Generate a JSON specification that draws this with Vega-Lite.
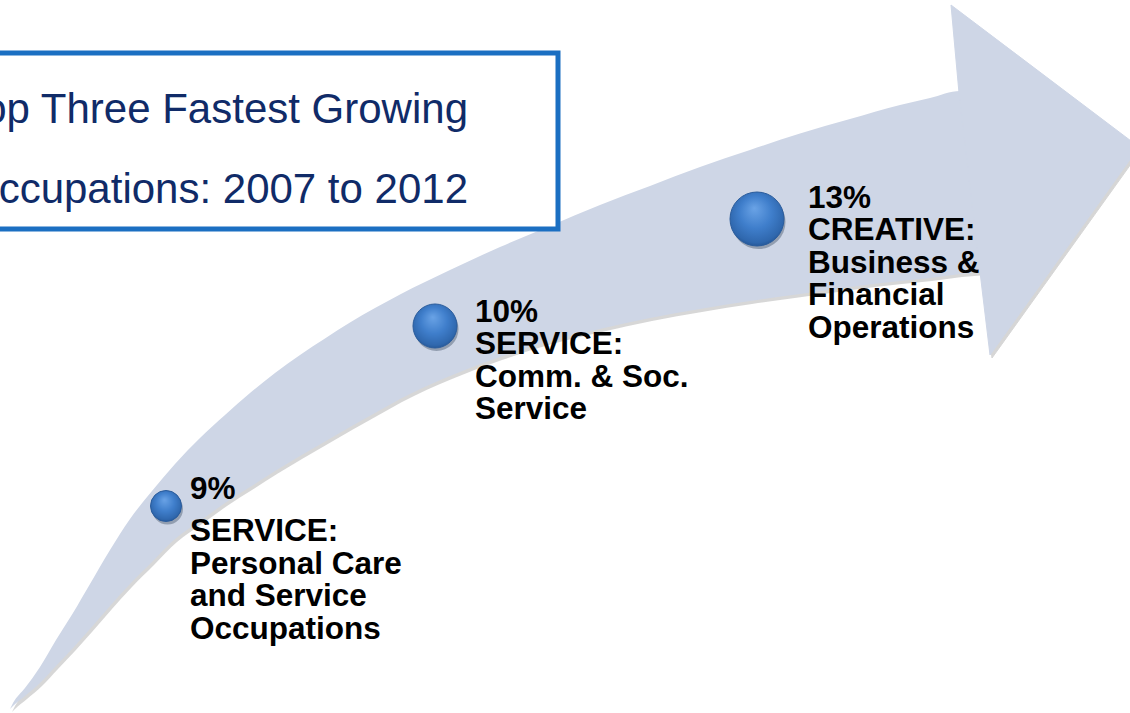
{
  "$schema": "https://vega.github.io/schema/vega-lite/v6.json",
  "width": 1130,
  "height": 713,
  "padding": 0,
  "autosize": {"type": "none"},
  "background": "white",
  "config": {"view": {"stroke": null}},
  "datasets": {
    "body": [
      {"x": 10, "yu": 709, "yl": 709}, {"x": 13, "yu": 703, "yl": 706}, {"x": 25, "yu": 688, "yl": 696},
      {"x": 40, "yu": 667, "yl": 683}, {"x": 56, "yu": 640, "yl": 666}, {"x": 73, "yu": 613, "yl": 648},
      {"x": 90, "yu": 584, "yl": 629}, {"x": 110, "yu": 550, "yl": 606}, {"x": 130, "yu": 519, "yl": 584},
      {"x": 152, "yu": 491, "yl": 562}, {"x": 175, "yu": 464, "yl": 539}, {"x": 200, "yu": 438, "yl": 521},
      {"x": 225, "yu": 415, "yl": 503}, {"x": 250, "yu": 393, "yl": 487}, {"x": 275, "yu": 373, "yl": 471},
      {"x": 300, "yu": 355, "yl": 456}, {"x": 325, "yu": 338.5, "yl": 441.5}, {"x": 350, "yu": 322.5, "yl": 427},
      {"x": 375, "yu": 308, "yl": 413}, {"x": 400, "yu": 294.5, "yl": 399}, {"x": 450, "yu": 270, "yl": 376},
      {"x": 500, "yu": 247, "yl": 357}, {"x": 550, "yu": 226, "yl": 341}, {"x": 600, "yu": 205, "yl": 329},
      {"x": 650, "yu": 186, "yl": 318}, {"x": 700, "yu": 167, "yl": 309}, {"x": 750, "yu": 150, "yl": 301},
      {"x": 800, "yu": 133.5, "yl": 294}, {"x": 850, "yu": 119, "yl": 287}, {"x": 900, "yu": 105, "yl": 281},
      {"x": 930, "yu": 98, "yl": 278}, {"x": 960, "yu": 91, "yl": 274}, {"x": 985, "yu": 91, "yl": 272}
    ],
    "head": [
      {"i": 0, "x": 959, "y": 93}, {"i": 1, "x": 951, "y": 5}, {"i": 2, "x": 1139, "y": 147},
      {"i": 3, "x": 990, "y": 355}, {"i": 4, "x": 980, "y": 272}, {"i": 5, "x": 959, "y": 93}
    ],
    "box": [{"x": -20, "x2": 558, "y": 53, "y2": 229}],
    "boxText": [
      {"t": "Top Three Fastest Growing", "x": 468, "y": 123},
      {"t": "Occupations: 2007 to 2012", "x": 468, "y": 203}
    ],
    "growth": [
      {"pct": 9, "pctLabel": "9%", "desc": "SERVICE:\nPersonal Care\nand Service\nOccupations", "x": 166, "y": 506, "lx": 190, "ly": 499, "dy": 541},
      {"pct": 10, "pctLabel": "10%", "desc": "SERVICE:\nComm. & Soc.\nService", "x": 435, "y": 326, "lx": 475, "ly": 322, "dy": 354},
      {"pct": 13, "pctLabel": "13%", "desc": "CREATIVE:\nBusiness &\nFinancial\nOperations", "x": 757, "y": 219, "lx": 808, "ly": 208, "dy": 240}
    ]
  },
  "layer": [
    {
      "data": {"name": "body"},
      "mark": {"type": "area", "orient": "vertical", "interpolate": "monotone", "color": "#9a9a9a", "opacity": 0.4, "xOffset": 2, "yOffset": 3, "y2Offset": 3, "clip": true},
      "encoding": {
        "x": {"field": "x", "type": "quantitative", "scale": {"domain": [0, 1130], "nice": false, "zero": false}, "axis": null},
        "y": {"field": "yu", "type": "quantitative", "scale": {"domain": [0, 713], "reverse": true, "nice": false, "zero": false}, "axis": null},
        "y2": {"field": "yl"}
      }
    },
    {
      "data": {"name": "head"},
      "mark": {"type": "line", "fill": "#9a9a9a", "stroke": "#9a9a9a", "strokeWidth": 1, "opacity": 0.4, "xOffset": 2, "yOffset": 3, "clip": true},
      "encoding": {
        "x": {"field": "x", "type": "quantitative", "axis": null},
        "y": {"field": "y", "type": "quantitative", "axis": null},
        "order": {"field": "i"}
      }
    },
    {
      "data": {"name": "body"},
      "mark": {"type": "area", "orient": "vertical", "interpolate": "monotone", "color": "#ced6e6", "opacity": 1, "clip": true},
      "encoding": {
        "x": {"field": "x", "type": "quantitative", "axis": null},
        "y": {"field": "yu", "type": "quantitative", "axis": null},
        "y2": {"field": "yl"}
      }
    },
    {
      "data": {"name": "head"},
      "mark": {"type": "line", "fill": "#ced6e6", "stroke": "#ced6e6", "strokeWidth": 1, "clip": true},
      "encoding": {
        "x": {"field": "x", "type": "quantitative", "axis": null},
        "y": {"field": "y", "type": "quantitative", "axis": null},
        "order": {"field": "i"}
      }
    },
    {
      "data": {"name": "box"},
      "mark": {"type": "rect", "fill": "white", "stroke": "#1b6fc2", "strokeWidth": 5, "clip": true},
      "encoding": {
        "x": {"field": "x", "type": "quantitative", "axis": null},
        "x2": {"field": "x2"},
        "y": {"field": "y", "type": "quantitative", "axis": null},
        "y2": {"field": "y2"}
      }
    },
    {
      "data": {"name": "boxText"},
      "mark": {"type": "text", "align": "right", "baseline": "alphabetic", "font": "Liberation Sans", "fontSize": 42, "color": "#102b68", "clip": true},
      "encoding": {
        "x": {"field": "x", "type": "quantitative", "axis": null},
        "y": {"field": "y", "type": "quantitative", "axis": null},
        "text": {"field": "t"}
      }
    },
    {
      "data": {"name": "growth"},
      "mark": {"type": "point", "shape": "circle", "filled": true, "fill": "#3a4a60", "opacity": 0.4, "xOffset": 1.5, "yOffset": 3, "strokeWidth": 0},
      "encoding": {
        "x": {"field": "x", "type": "quantitative", "axis": null},
        "y": {"field": "y", "type": "quantitative", "axis": null},
        "size": {"field": "pct", "type": "ordinal", "scale": {"domain": [9, 10, 13], "range": [961, 2916, 5476]}, "legend": null}
      }
    },
    {
      "data": {"name": "growth"},
      "mark": {
        "type": "point", "shape": "circle", "filled": true, "opacity": 1,
        "fill": {"gradient": "radial", "x1": 0.45, "y1": 0.3, "r1": 0, "x2": 0.5, "y2": 0.45, "r2": 0.6,
          "stops": [
            {"offset": 0, "color": "#6aa3e6"},
            {"offset": 0.5, "color": "#3f7ecb"},
            {"offset": 0.85, "color": "#2f67ad"},
            {"offset": 1, "color": "#1f4e8a"}
          ]},
        "stroke": "#2a5c9c", "strokeWidth": 1
      },
      "encoding": {
        "x": {"field": "x", "type": "quantitative", "axis": null},
        "y": {"field": "y", "type": "quantitative", "axis": null},
        "size": {"field": "pct", "type": "ordinal", "legend": null}
      }
    },
    {
      "data": {"name": "growth"},
      "mark": {"type": "text", "align": "left", "baseline": "alphabetic", "font": "Liberation Sans", "fontWeight": "bold", "fontSize": 31.5, "color": "#000000"},
      "encoding": {
        "x": {"field": "lx", "type": "quantitative", "axis": null},
        "y": {"field": "ly", "type": "quantitative", "axis": null},
        "text": {"field": "pctLabel"}
      }
    },
    {
      "data": {"name": "growth"},
      "mark": {"type": "text", "align": "left", "baseline": "alphabetic", "font": "Liberation Sans", "fontWeight": "bold", "fontSize": 31.5, "lineHeight": 32.5, "lineBreak": "\n", "color": "#000000"},
      "encoding": {
        "x": {"field": "lx", "type": "quantitative", "axis": null},
        "y": {"field": "dy", "type": "quantitative", "axis": null},
        "text": {"field": "desc"}
      }
    }
  ]
}
